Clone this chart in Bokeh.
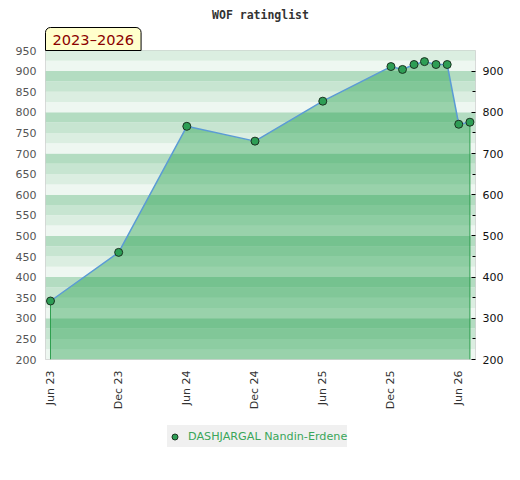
import math
import pandas as pd
from bokeh.plotting import figure
from bokeh.layouts import column
from bokeh.models import (Range1d, LinearAxis, FixedTicker, BoxAnnotation, Legend,
                          LegendItem, Title, ColumnDataSource)
from bokeh.embed import file_html
from bokeh.resources import INLINE

# ---- data ----
chart_title = "WOF ratinglist"
period = "2023–2026"
player = "DASHJARGAL Nandin-Erdene"
dates = ["2023-06-01", "2023-12-01", "2024-06-01", "2024-12-01", "2025-06-01",
         "2025-12-01", "2026-01-01", "2026-02-01", "2026-03-01", "2026-04-01",
         "2026-05-01", "2026-06-01", "2026-07-01"]
ratings = [342, 460, 766, 730, 827, 911, 904, 916, 923, 916, 916, 771, 776]
tick_dates = ["2023-06-01", "2023-12-01", "2024-06-01", "2024-12-01",
              "2025-06-01", "2025-12-01", "2026-06-01"]
tick_labels = ["Jun 23", "Dec 23", "Jun 24", "Dec 24", "Jun 25", "Dec 25", "Jun 26"]
left_ticks = [200, 250, 300, 350, 400, 450, 500, 550, 600, 650, 700, 750, 800, 850, 900, 950]
right_ticks = [200, 300, 400, 500, 600, 700, 800, 900]
right_minor = [250, 350, 450, 550, 650, 750, 850]
y_min, y_max = 200, 950
x_start, x_end = "2023-05-18 14:00", "2026-07-16"
band_colors = ["#eef7f1", "#dbeee1", "#c7e5d1", "#b3dcc1"]

x = pd.to_datetime(dates)
src = ColumnDataSource(dict(x=x, rating=ratings))
tick_ms = [float(pd.Timestamp(d).value // 10**6) for d in tick_dates]

p = figure(width=520, height=412, x_axis_type="datetime", output_backend="svg",
           toolbar_location=None, title=None,
           x_range=Range1d(pd.Timestamp(x_start), pd.Timestamp(x_end)),
           y_range=Range1d(y_min, y_max),
           min_border_left=45, min_border_right=45, min_border_top=50, min_border_bottom=52)
p.outline_line_color = "#d0d0d0"
p.grid.visible = False
p.background_fill_color = "white"
p.border_fill_color = "white"

# period tag and title (above the frame)
p.add_layout(Title(text=period, align="left", text_font="DejaVu Sans", text_font_size="14.6px",
                   text_font_style="normal", text_color="#8b0000",
                   background_fill_color="#ffffcc", border_line_color="black",
                   border_line_width=1, padding=(7, 3), border_radius=(5, 5, 0, 0),
                   offset=0, standoff=0), "above")
p.add_layout(Title(text=chart_title, align="center", text_font="DejaVu Sans Mono",
                   text_font_style="bold", text_font_size="11.5px", text_color="#333333",
                   standoff=8), "above")

# background bands
b = 200
while b < 1000:
    p.add_layout(BoxAnnotation(bottom=b, top=b + 25, fill_color=band_colors[(b % 100) // 25],
                               fill_alpha=1, line_color=None, level="underlay"))
    b += 25

# area, edges, line, markers
p.varea(x="x", y1=y_min, y2="rating", source=src, fill_color="#1a9b44", fill_alpha=0.4)
p.segment(x0=[x[0], x[-1]], y0=[y_min, y_min], x1=[x[0], x[-1]], y1=[ratings[0], ratings[-1]],
          line_color="#2e9e4e", line_width=1)
p.line("x", "rating", source=src, line_color="#5b9bd5", line_width=1.5)
p.scatter("x", "rating", source=src, size=8, fill_color="#2e9e55", line_color="#1b3322",
          line_width=1)

# axes
ya = p.yaxis[0]
ya.ticker = FixedTicker(ticks=left_ticks)
ya.major_tick_out = 0
ya.major_tick_in = 0
ya.minor_tick_out = 0
ya.minor_tick_in = 0
ya.axis_line_color = None
ya.major_label_text_color = "#555555"
ya.major_label_text_font = "DejaVu Sans"
ya.major_label_text_font_size = "11px"
ya.major_label_standoff = 9

ra = LinearAxis(ticker=FixedTicker(ticks=right_ticks, minor_ticks=right_minor))
ra.major_tick_in = 4
ra.major_tick_out = 0
ra.minor_tick_in = 3
ra.minor_tick_out = 0
ra.major_tick_line_color = "black"
ra.minor_tick_line_color = "black"
ra.axis_line_color = None
ra.major_label_text_color = "#111111"
ra.major_label_text_font = "DejaVu Sans"
ra.major_label_text_font_size = "11px"
ra.major_label_standoff = 7
p.add_layout(ra, "right")

xa = p.xaxis[0]
xa.ticker = FixedTicker(ticks=tick_ms)
xa.major_label_overrides = {t: lab for t, lab in zip(tick_ms, tick_labels)}
xa.major_label_orientation = math.pi / 2
xa.major_tick_out = 0
xa.major_tick_in = 0
xa.minor_tick_out = 0
xa.minor_tick_in = 0
xa.axis_line_color = None
xa.major_label_text_color = "#333333"
xa.major_label_text_font = "DejaVu Sans"
xa.major_label_text_font_size = "11px"
xa.major_label_standoff = 11

# legend panel (separate strip below the chart)
lg = figure(width=520, height=68, output_backend="svg", toolbar_location=None,
            x_range=Range1d(0, 1), y_range=Range1d(0, 1),
            x_axis_location=None, y_axis_location=None,
            min_border_left=0, min_border_right=0, min_border_top=0, min_border_bottom=0)
lg.grid.visible = False
lg.outline_line_color = None
lg.border_fill_color = "white"
lr = lg.scatter("x", "rating", source=src, size=8, fill_color="#2e9e55", line_color="#1b3322",
                line_width=1)
legend = Legend(items=[LegendItem(label=player, renderers=[lr])], location=(122, 33),
                orientation="horizontal", background_fill_color="#f0f0f0", background_fill_alpha=1,
                border_line_color=None, label_text_color="#3aa65a", label_text_font="DejaVu Sans",
                label_text_font_size="11.2px", glyph_width=15, glyph_height=15, label_height=22,
                padding=4, label_standoff=6, margin=0)
lg.add_layout(legend, "center")

open("out.html", "w").write(file_html(column(p, lg), INLINE))
